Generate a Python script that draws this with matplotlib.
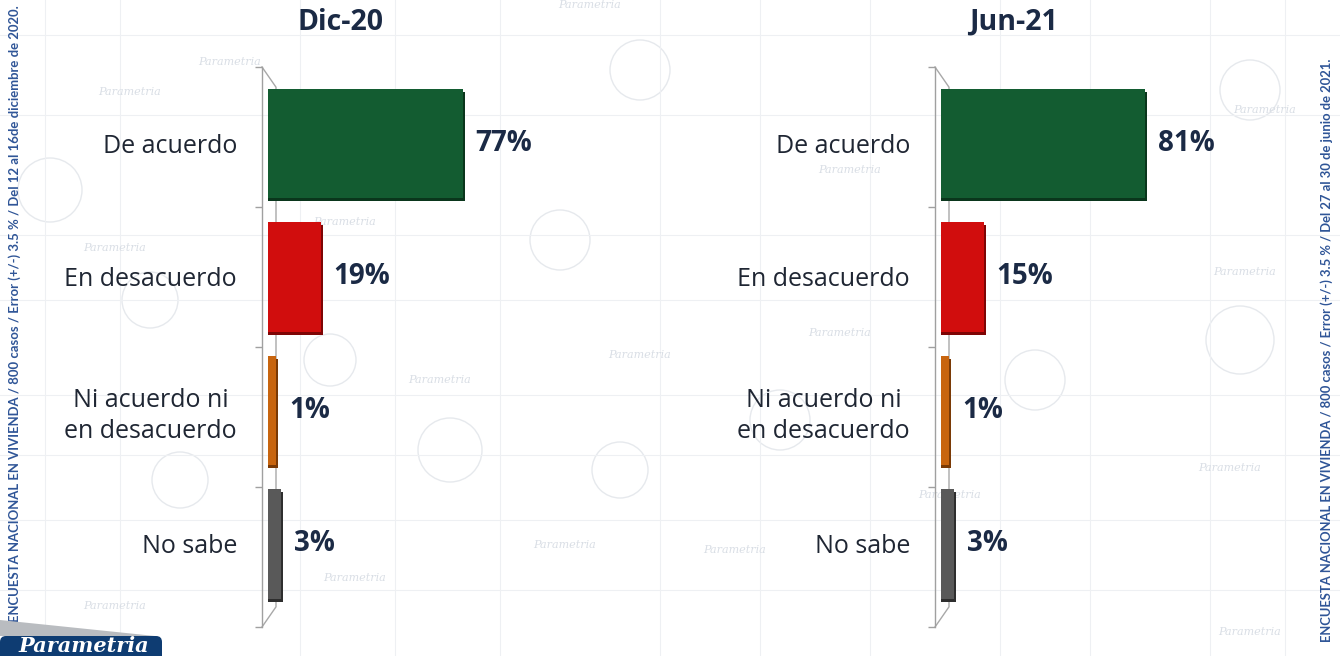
import matplotlib
matplotlib.use("Agg")
import matplotlib.pyplot as plt
from matplotlib.patches import Polygon, FancyBboxPatch, Ellipse
import numpy as np

# ---------------- data ----------------
categories = ["De acuerdo", "En desacuerdo", "Ni acuerdo ni\nen desacuerdo", "No sabe"]
dic20 = [77, 19, 1, 3]
jun21 = [81, 15, 1, 3]
titles = ["Dic-20", "Jun-21"]
bar_colors = ["#135c31", "#d10d0d", "#c8650f", "#595959"]
shadow_colors = ["#0a361c", "#7e0505", "#7a3a06", "#2e2e2e"]
note_left = "ENCUESTA NACIONAL EN VIVIENDA / 800 casos / Error (+/-) 3.5 % / Del 12 al 16de diciembre de 2020."
note_right = "ENCUESTA NACIONAL EN VIVIENDA / 800 casos / Error (+/-) 3.5 % / Del 27 al 30 de junio de 2021."

W, H = 1340, 656
fig = plt.figure(figsize=(W / 100, H / 100), dpi=100)
fig.patch.set_facecolor("white")

def fx(px):
    return px / W

def fy(py_top):
    return 1 - py_top / H

# ---------------- faint background texture ----------------
bg = fig.add_axes([0, 0, 1, 1], zorder=-10)
bg.set_xlim(0, W)
bg.set_ylim(H, 0)
bg.axis("off")
lc = "#eef0f3"
for x in [45, 120, 300, 395, 500, 660, 760, 870, 1000, 1090, 1210, 1285]:
    bg.plot([x, x], [0, H], color=lc, lw=0.8)
for y in [35, 115, 235, 300, 395, 455, 520, 590]:
    bg.plot([0, W], [y, y], color=lc, lw=0.8)
for (cx, cy, r) in [(50, 190, 32), (150, 300, 28), (640, 70, 30), (560, 240, 30),
                    (450, 450, 32), (780, 420, 30), (1240, 340, 34), (1035, 380, 30),
                    (620, 470, 28), (1250, 90, 30), (180, 480, 28), (330, 360, 26)]:
    bg.add_patch(Ellipse((cx, cy), 2 * r, 2 * r, fill=False, ec="#e6e9ed", lw=1.0))
wm = [(230, 62), (590, 5), (115, 248), (345, 222), (440, 380), (640, 355), (840, 333),
      (1245, 272), (1230, 468), (950, 495), (735, 550), (565, 545), (355, 578), (115, 606),
      (1250, 632), (850, 170), (130, 92), (1265, 110)]
for (x, y) in wm:
    bg.text(x, y, "Parametria", fontsize=8, style="italic", family="DejaVu Serif",
            color="#d9dee5", ha="center", va="center")

# ---------------- panels ----------------
DEPTH = 2.45          # 3-D depth of the bars (units)
SCALE = 2.45          # px per unit
AX_W = 300
YLIM = (3.622, -0.573)

def panel(left_px, values, title):
    ax = fig.add_axes([fx(left_px), 29 / H, AX_W / W, 560 / H])
    ax.set_facecolor("none")
    xmin = -12 / SCALE
    ax.set_xlim(xmin, xmin + AX_W / SCALE)
    ax.set_ylim(*YLIM)
    y = np.arange(len(values))
    vals = np.array(values, dtype=float)
    # back wall line of the 3-D frame
    bx = 14 / AX_W
    ax.plot([0, bx, bx, 0], [1, 0.964, 0.036, 0], transform=ax.transAxes,
            color="#a8a8a8", lw=1.0, zorder=1, clip_on=False)
    # shadows (dark side faces) then bars
    ax.barh(y + 0.022, vals + DEPTH + 0.8, left=-DEPTH, height=0.82,
            color=shadow_colors, zorder=2)
    ax.barh(y, vals + DEPTH, left=-DEPTH, height=0.82, color=bar_colors, zorder=3)
    for yi, v in zip(y, vals):
        ax.annotate(f"{v:.0f}%", (v, yi), xytext=(9, 0), textcoords="offset points",
                    ha="left", va="center", fontsize=20, fontweight="bold",
                    family="Open Sans", color="#1b2a45", zorder=5)
    # spines / ticks
    for s in ["top", "right", "bottom"]:
        ax.spines[s].set_visible(False)
    ax.spines["left"].set_color("#a0a0a0")
    ax.spines["left"].set_linewidth(1.0)
    ax.set_xticks([])
    ax.set_yticks(y)
    ax.set_yticklabels(categories, fontsize=18, family="Open Sans", color="#1f2633")
    ax.tick_params(axis="y", which="major", length=0, pad=18)
    for lab in ax.get_yticklabels():
        lab.set_multialignment("center")
        lab.set_linespacing(1.3)
    ax.set_yticks(np.linspace(YLIM[0], YLIM[1], 5), minor=True)
    ax.tick_params(axis="y", which="minor", length=5, color="#a0a0a0", width=1.0)
    # title
    fig.text(fx(left_px + 78), fy(22), title, fontsize=20.5, fontweight="bold",
             family="Open Sans", color="#1b2a45", ha="center", va="center")
    return ax

panel(262, dic20, titles[0])
panel(935, jun21, titles[1])

# ---------------- side notes (fit to the reference length) ----------------
renderer = fig.canvas.get_renderer()

def vnote(xpx, ypx, text, va, target_len):
    t = fig.text(fx(xpx), fy(ypx), text, rotation=90, ha="center", va=va,
                 fontsize=10, fontweight="bold", family="Lato", color="#2f5597")
    h = t.get_window_extent(renderer).height
    t.set_fontsize(10 * target_len / h)
    return t

vnote(15, 5, note_left, "top", 615)
vnote(1327, 642, note_right, "bottom", 588)

# ---------------- logo ----------------
lg = fig.add_axes([0, 0, 1, 1], zorder=5)
lg.set_xlim(0, W)
lg.set_ylim(H, 0)
lg.axis("off")
lg.add_patch(Polygon([(0, 620), (0, 636), (155, 636)], closed=True, color="#b9bcc0", lw=0))
lg.add_patch(FancyBboxPatch((0, 636), 162, 30, boxstyle="round,pad=0,rounding_size=6",
                            fc="#0e3c72", ec="none"))
lg.text(84, 646, "Parametria", color="white", fontsize=15, fontweight="bold",
        style="italic", family="DejaVu Serif", ha="center", va="center")

fig.savefig("out.png", dpi=100)
